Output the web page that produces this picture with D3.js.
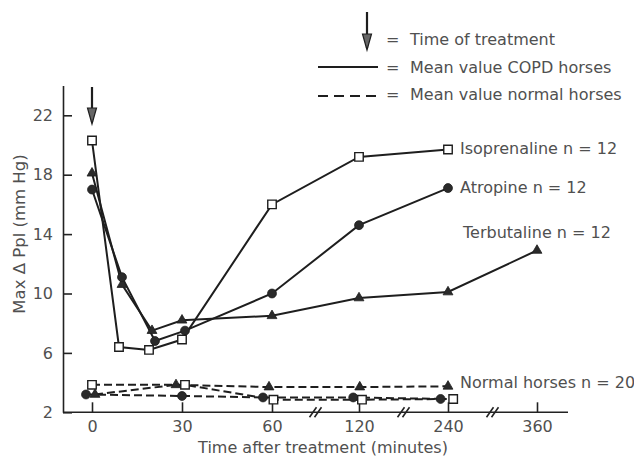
<!DOCTYPE html>
<html lang="en">
<head>
<meta charset="utf-8">
<script src="https://cdn.jsdelivr.net/npm/d3@7"></script>
<style type="text/css">
  body { margin: 0; background: #fff; }
  text { font-family: "DejaVu Sans", sans-serif; fill: #505050; }
  .axis path, .axis line { fill: none; stroke: #222; stroke-width: 1.6px; }
  .axis text { font-size: 16px; fill: #505050; }
</style>
</head>
<body>
<script>
// x ticks (the axis is broken between 60, 120, 240 and 360)
var xTicks = [0, 30, 60, 120, 240, 360];
var xBreaks = [90, 180, 300];
var yTicks = [2, 6, 10, 14, 18, 22];

// COPD horses, mean values (solid lines)
var isoTimes = [0, 9, 19, 30, 60, 120, 240];
var isoValues = [20.3, 6.4, 6.2, 6.9, 16.0, 19.2, 19.7];
var atroTimes = [0, 10, 21, 31, 60, 120, 240];
var atroValues = [17.0, 11.1, 6.8, 7.5, 10.0, 14.6, 17.1];
var terbTimes = [0, 10, 20, 30, 60, 120, 240, 360];
var terbValues = [18.1, 10.6, 7.5, 8.2, 8.5, 9.7, 10.1, 12.9];

// normal horses, mean values (dashed lines)
var normSqTimes = [0, 31, 61, 124, 247];
var normSqValues = [3.85, 3.85, 2.85, 2.85, 2.9];
var normTriTimes = [1, 28, 59, 121, 240];
var normTriValues = [3.2, 3.85, 3.7, 3.7, 3.75];
var normCircTimes = [-2, 30, 57, 116, 230];
var normCircValues = [3.2, 3.1, 3.0, 3.0, 2.9];

var labels = [
  {text: "Isoprenaline n = 12", t: 240, v: 19.7, dx: 12, dy: 5},
  {text: "Atropine n = 12", t: 240, v: 17.1, dx: 12, dy: 5},
  {text: "Terbutaline n = 12", t: 240, v: 14.1, dx: 15, dy: 5},
  {text: "Normal horses n = 20", t: 240, v: 4.0, dx: 12, dy: 5}
];

var width = 634, height = 456;

var svg = d3.select("body").append("svg")
  .attr("width", width)
  .attr("height", height);

var x = d3.scaleLinear()
  .domain(xTicks)
  .range([92, 182, 272, 359, 448, 537]);

var y = d3.scaleLinear()
  .domain([2, 24])
  .range([412.3, 85.6]);

var ink = "#1e1e1e";

// axes
var xAxis = svg.append("g")
  .attr("class", "axis")
  .attr("transform", "translate(0," + y(2) + ")")
  .call(d3.axisBottom(x).tickValues(xTicks).tickFormat(d3.format("d"))
    .tickSizeInner(-10).tickSizeOuter(0).tickPadding(8));
xAxis.select(".domain").remove();
xAxis.append("line")
  .attr("x1", 63).attr("x2", 568)
  .attr("y1", 0).attr("y2", 0);

// break marks on the x axis
xBreaks.forEach(function(b) {
  [-2.5, 2.5].forEach(function(o) {
    xAxis.append("line")
      .attr("x1", x(b) + o - 3.5).attr("y1", 5)
      .attr("x2", x(b) + o + 3.5).attr("y2", -5);
  });
});

var yAxis = svg.append("g")
  .attr("class", "axis")
  .attr("transform", "translate(63,0)")
  .call(d3.axisLeft(y).tickValues(yTicks)
    .tickSizeInner(-9).tickSizeOuter(0).tickPadding(10));

// axis titles
svg.append("text")
  .attr("x", x(120) - 36)
  .attr("y", 453)
  .attr("text-anchor", "middle")
  .style("font-size", "16px")
  .text("Time after treatment (minutes)");

svg.append("text")
  .attr("transform", "translate(25,234) rotate(-90)")
  .attr("text-anchor", "middle")
  .style("font-size", "16.5px")
  .text("Max \u0394 Ppl (mm Hg)");

// lines
var line = d3.line()
  .x(function(d) { return x(d[0]); })
  .y(function(d) { return y(d[1]); });

function pairs(ts, vs) { return ts.map(function(t, i) { return [t, vs[i]]; }); }

var series = [
  {data: pairs(normCircTimes, normCircValues), dash: "8,4", shape: "circle"},
  {data: pairs(normTriTimes, normTriValues), dash: "8,4", shape: "triangle"},
  {data: pairs(normSqTimes, normSqValues), dash: "8,4", shape: "square"},
  {data: pairs(terbTimes, terbValues), dash: null, shape: "triangle"},
  {data: pairs(atroTimes, atroValues), dash: null, shape: "circle"},
  {data: pairs(isoTimes, isoValues), dash: null, shape: "square"}
];

series.forEach(function(s) {
  svg.append("path")
    .datum(s.data)
    .attr("d", line)
    .attr("fill", "none")
    .attr("stroke", ink)
    .attr("stroke-width", 2)
    .attr("stroke-dasharray", s.dash);
});

var shapes = {
  square: d3.symbol().type(d3.symbolSquare).size(72),
  triangle: d3.symbol().type(d3.symbolTriangle).size(42),
  circle: d3.symbol().type(d3.symbolCircle).size(62)
};

series.forEach(function(s) {
  svg.selectAll(null)
    .data(s.data)
    .enter()
    .append("path")
    .attr("d", shapes[s.shape])
    .attr("transform", function(d) { return "translate(" + x(d[0]) + "," + y(d[1]) + ")"; })
    .attr("fill", s.shape === "square" ? "#fff" : "#2a2a2a")
    .attr("stroke", ink)
    .attr("stroke-width", s.shape === "square" ? 1.4 : 0.8);
});

// series labels
svg.selectAll(null)
  .data(labels)
  .enter()
  .append("text")
  .attr("x", function(d) { return x(d.t) + d.dx; })
  .attr("y", function(d) { return y(d.v) + d.dy; })
  .style("font-size", "16px")
  .text(function(d) { return d.text; });

// arrow marking time of treatment
function arrow(g, cx, top, bottom) {
  g.append("line")
    .attr("x1", cx).attr("x2", cx)
    .attr("y1", top).attr("y2", bottom - 2)
    .attr("stroke", ink).attr("stroke-width", 2.2);
  g.append("path")
    .attr("d", "M" + (cx - 4.5) + "," + (bottom - 16) + "L" + (cx + 4.5) + "," + (bottom - 16) + "L" + cx + "," + bottom + "Z")
    .attr("fill", "#666")
    .attr("stroke", ink)
    .attr("stroke-width", 1.2);
}
arrow(svg, x(0), 87, 124);

// legend
var legend = svg.append("g");
arrow(legend, 367, 12, 50);
legend.append("line")
  .attr("x1", 318).attr("x2", 378).attr("y1", 67).attr("y2", 67)
  .attr("stroke", ink).attr("stroke-width", 2);
legend.append("line")
  .attr("x1", 318).attr("x2", 378).attr("y1", 96).attr("y2", 96)
  .attr("stroke", ink).attr("stroke-width", 2)
  .attr("stroke-dasharray", "10,6");

var legendItems = ["Time of treatment", "Mean value COPD horses", "Mean value normal horses"];
legendItems.forEach(function(t, i) {
  legend.append("text")
    .attr("x", 386).attr("y", 45 + i * 27.5)
    .style("font-size", "16px")
    .text("=");
  legend.append("text")
    .attr("x", 410).attr("y", 45 + i * 27.5)
    .style("font-size", "16px")
    .text(t);
});
</script>
</body>
</html>
